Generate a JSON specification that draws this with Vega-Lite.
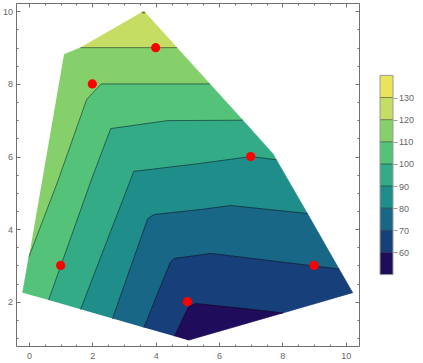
{
  "$schema": "https://vega.github.io/schema/vega-lite/v6.json",
  "padding": {"left": 2, "top": 2, "right": 0, "bottom": 0},
  "background": "white",
  "config": {
    "view": {"stroke": null},
    "axis": {"grid": false, "labelFont": "Liberation Sans", "labelFontSize": 9, "labelColor": "#666666", "tickColor": "#707070", "domainColor": "#707070", "domainWidth": 1, "tickWidth": 1}
  },
  "datasets": {
    "bands": [
      {"b":"b130","o":1,"x":3.56,"y":9.965},{"b":"b130","o":2,"x":3.63,"y":10.0},{"b":"b130","o":3,"x":3.666,"y":9.965},
      {"b":"b120","o":1,"x":1.63,"y":9.0},{"b":"b120","o":2,"x":3.63,"y":10.0},{"b":"b120","o":3,"x":4.67,"y":9.0},
      {"b":"b110","o":1,"x":0.0,"y":3.24},{"b":"b110","o":2,"x":0.906,"y":5.31},{"b":"b110","o":3,"x":1.82,"y":7.57},{"b":"b110","o":4,"x":2.28,"y":8.0},{"b":"b110","o":5,"x":5.71,"y":8.0},{"b":"b110","o":6,"x":4.67,"y":9.0},{"b":"b110","o":7,"x":1.63,"y":9.0},{"b":"b110","o":8,"x":1.105,"y":8.81},
      {"b":"b100","o":1,"x":0.62,"y":2.045},{"b":"b100","o":2,"x":1.95,"y":5.31},{"b":"b100","o":3,"x":2.58,"y":6.77},{"b":"b100","o":4,"x":4.38,"y":6.99},{"b":"b100","o":5,"x":6.75,"y":7.0},{"b":"b100","o":6,"x":5.71,"y":8.0},{"b":"b100","o":7,"x":2.28,"y":8.0},{"b":"b100","o":8,"x":1.82,"y":7.57},{"b":"b100","o":9,"x":0.906,"y":5.31},{"b":"b100","o":10,"x":0.0,"y":3.24},{"b":"b100","o":11,"x":-0.2,"y":2.25},
      {"b":"b90","o":1,"x":1.63,"y":1.79},{"b":"b90","o":2,"x":3.31,"y":5.59},{"b":"b90","o":3,"x":5.42,"y":5.81},{"b":"b90","o":4,"x":7.0,"y":6.0},{"b":"b90","o":5,"x":7.81,"y":5.91},{"b":"b90","o":6,"x":7.7,"y":6.08},{"b":"b90","o":7,"x":6.75,"y":7.0},{"b":"b90","o":8,"x":4.38,"y":6.99},{"b":"b90","o":9,"x":2.58,"y":6.77},{"b":"b90","o":10,"x":1.95,"y":5.31},{"b":"b90","o":11,"x":0.62,"y":2.045},
      {"b":"b80","o":1,"x":2.64,"y":1.54},{"b":"b80","o":2,"x":3.75,"y":4.29},{"b":"b80","o":3,"x":3.94,"y":4.4},{"b":"b80","o":4,"x":5.42,"y":4.54},{"b":"b80","o":5,"x":6.37,"y":4.65},{"b":"b80","o":6,"x":8.79,"y":4.43},{"b":"b80","o":7,"x":7.81,"y":5.91},{"b":"b80","o":8,"x":7.0,"y":6.0},{"b":"b80","o":9,"x":5.42,"y":5.81},{"b":"b80","o":10,"x":3.31,"y":5.59},{"b":"b80","o":11,"x":1.63,"y":1.79},
      {"b":"b70","o":1,"x":3.63,"y":1.29},{"b":"b70","o":2,"x":4.47,"y":3.1},{"b":"b70","o":3,"x":4.58,"y":3.19},{"b":"b70","o":4,"x":5.42,"y":3.29},{"b":"b70","o":5,"x":5.74,"y":3.33},{"b":"b70","o":6,"x":9.79,"y":2.9},{"b":"b70","o":7,"x":8.79,"y":4.43},{"b":"b70","o":8,"x":6.37,"y":4.65},{"b":"b70","o":9,"x":5.42,"y":4.54},{"b":"b70","o":10,"x":3.94,"y":4.4},{"b":"b70","o":11,"x":3.75,"y":4.29},{"b":"b70","o":12,"x":2.64,"y":1.54},
      {"b":"b60","o":1,"x":4.6,"y":1.05},{"b":"b60","o":2,"x":4.89,"y":1.59},{"b":"b60","o":3,"x":5.04,"y":1.86},{"b":"b60","o":4,"x":5.26,"y":1.95},{"b":"b60","o":5,"x":6.68,"y":1.82},{"b":"b60","o":6,"x":8.01,"y":1.69},{"b":"b60","o":7,"x":10.22,"y":2.25},{"b":"b60","o":8,"x":9.79,"y":2.9},{"b":"b60","o":9,"x":5.74,"y":3.33},{"b":"b60","o":10,"x":5.42,"y":3.29},{"b":"b60","o":11,"x":4.58,"y":3.19},{"b":"b60","o":12,"x":4.47,"y":3.1},{"b":"b60","o":13,"x":3.63,"y":1.29},
      {"b":"b50","o":1,"x":4.6,"y":1.05},{"b":"b50","o":2,"x":4.89,"y":1.59},{"b":"b50","o":3,"x":5.04,"y":1.86},{"b":"b50","o":4,"x":5.26,"y":1.95},{"b":"b50","o":5,"x":6.68,"y":1.82},{"b":"b50","o":6,"x":8.01,"y":1.69},{"b":"b50","o":7,"x":5.03,"y":0.94}
    ],
    "contours": [
      {"lev":130,"o":1,"x":3.56,"y":9.965},{"lev":130,"o":2,"x":3.666,"y":9.965},
      {"lev":120,"o":1,"x":1.63,"y":9.0},{"lev":120,"o":2,"x":4.67,"y":9.0},
      {"lev":110,"o":1,"x":0.0,"y":3.24},{"lev":110,"o":2,"x":0.906,"y":5.31},{"lev":110,"o":3,"x":1.82,"y":7.57},{"lev":110,"o":4,"x":2.28,"y":8.0},{"lev":110,"o":5,"x":5.71,"y":8.0},
      {"lev":100,"o":1,"x":0.62,"y":2.045},{"lev":100,"o":2,"x":1.95,"y":5.31},{"lev":100,"o":3,"x":2.58,"y":6.77},{"lev":100,"o":4,"x":4.38,"y":6.99},{"lev":100,"o":5,"x":6.75,"y":7.0},
      {"lev":90,"o":1,"x":1.63,"y":1.79},{"lev":90,"o":2,"x":3.31,"y":5.59},{"lev":90,"o":3,"x":5.42,"y":5.81},{"lev":90,"o":4,"x":7.0,"y":6.0},{"lev":90,"o":5,"x":7.81,"y":5.91},
      {"lev":80,"o":1,"x":2.64,"y":1.54},{"lev":80,"o":2,"x":3.75,"y":4.29},{"lev":80,"o":3,"x":3.94,"y":4.4},{"lev":80,"o":4,"x":5.42,"y":4.54},{"lev":80,"o":5,"x":6.37,"y":4.65},{"lev":80,"o":6,"x":8.79,"y":4.43},
      {"lev":70,"o":1,"x":3.63,"y":1.29},{"lev":70,"o":2,"x":4.47,"y":3.1},{"lev":70,"o":3,"x":4.58,"y":3.19},{"lev":70,"o":4,"x":5.42,"y":3.29},{"lev":70,"o":5,"x":5.74,"y":3.33},{"lev":70,"o":6,"x":9.79,"y":2.9},
      {"lev":60,"o":1,"x":4.6,"y":1.05},{"lev":60,"o":2,"x":4.89,"y":1.59},{"lev":60,"o":3,"x":5.04,"y":1.86},{"lev":60,"o":4,"x":5.26,"y":1.95},{"lev":60,"o":5,"x":6.68,"y":1.82},{"lev":60,"o":6,"x":8.01,"y":1.69}
    ],
    "pts": [
      {"x":1,"y":3},{"x":2,"y":8},{"x":4,"y":9},{"x":7,"y":6},{"x":9,"y":3},{"x":5,"y":2}
    ],
    "legend": [
      {"b":"b50","lo":50,"hi":60},{"b":"b60","lo":60,"hi":70},{"b":"b70","lo":70,"hi":80},{"b":"b80","lo":80,"hi":90},{"b":"b90","lo":90,"hi":100},{"b":"b100","lo":100,"hi":110},{"b":"b110","lo":110,"hi":120},{"b":"b120","lo":120,"hi":130},{"b":"b130","lo":130,"hi":140}
    ],
    "legdiv": [{"v":60},{"v":70},{"v":80},{"v":90},{"v":100},{"v":110},{"v":120},{"v":130}],
    "legbox": [{"lo":50,"hi":140}]
  },
  "resolve": {"scale": {"x": "independent", "y": "independent", "fill": "independent", "stroke": "independent"}},
  "spacing": 19,
  "hconcat": [
    {
      "width": 343,
      "height": 343,
      "resolve": {"axis": {"x": "independent", "y": "independent"}},
      "layer": [
        {
          "data": {"name": "bands"},
          "mark": {"type": "line", "strokeWidth": 0.7, "interpolate": "linear"},
          "encoding": {
            "x": {"field": "x", "type": "quantitative", "title": null, "scale": {"domain": [-0.41, 10.42], "nice": false, "zero": false},
                  "axis": {"orient": "bottom", "values": [0, 2, 4, 6, 8, 10], "tickSize": -4, "labelPadding": 9, "domain": true, "labelFlush": false}},
            "y": {"field": "y", "type": "quantitative", "title": null, "scale": {"domain": [0.78, 10.23], "nice": false, "zero": false},
                  "axis": {"orient": "left", "values": [2, 4, 6, 8, 10], "tickSize": -4, "labelPadding": 7.6, "domain": true, "labelFlush": false}},
            "order": {"field": "o"},
            "fill": {"field": "b", "type": "nominal", "legend": null, "scale": {"domain": ["b50","b60","b70","b80","b90","b100","b110","b120","b130"], "range": ["#1f0c5b","#173f7a","#196786","#1f8e8a","#33ab86","#55c27a","#86d06b","#c5dd62","#e8e55b"]}},
            "stroke": {"field": "b", "type": "nominal", "legend": null, "scale": {"domain": ["b50","b60","b70","b80","b90","b100","b110","b120","b130"], "range": ["#1f0c5b","#173f7a","#196786","#1f8e8a","#33ab86","#55c27a","#86d06b","#c5dd62","#e8e55b"]}}
          }
        },
        {
          "data": {"name": "contours"},
          "transform": [{"filter": "datum.lev < 130"}],
          "mark": {"type": "line", "stroke": "#000000", "strokeOpacity": 0.45, "strokeWidth": 1},
          "encoding": {
            "x": {"field": "x", "type": "quantitative", "title": null, "scale": {"domain": [-0.41, 10.42], "nice": false, "zero": false},
                  "axis": {"orient": "top", "values": [0, 2, 4, 6, 8, 10], "tickSize": -4, "labels": false, "domain": true}},
            "y": {"field": "y", "type": "quantitative", "title": null, "scale": {"domain": [0.78, 10.23], "nice": false, "zero": false},
                  "axis": {"orient": "right", "values": [2, 4, 6, 8, 10], "tickSize": -4, "labels": false, "domain": true}},
            "detail": {"field": "lev", "type": "nominal"},
            "order": {"field": "o"}
          }
        },
        {
          "data": {"name": "contours"},
          "transform": [{"filter": "datum.lev == 130"}],
          "mark": {"type": "line", "stroke": "#000000", "strokeOpacity": 0.45, "strokeWidth": 1.5},
          "encoding": {
            "x": {"field": "x", "type": "quantitative", "title": null, "scale": {"domain": [-0.41, 10.42], "nice": false, "zero": false},
                  "axis": {"orient": "top", "values": [0.5,1,1.5,2.5,3,3.5,4.5,5,5.5,6.5,7,7.5,8.5,9,9.5], "tickSize": -2, "labels": false, "domain": false}},
            "y": {"field": "y", "type": "quantitative", "title": null, "scale": {"domain": [0.78, 10.23], "nice": false, "zero": false},
                  "axis": {"orient": "right", "values": [1,1.5,2.5,3,3.5,4.5,5,5.5,6.5,7,7.5,8.5,9,9.5], "tickSize": -2, "labels": false, "domain": false}},
            "order": {"field": "o"}
          }
        },
        {
          "data": {"name": "pts"},
          "mark": {"type": "point", "filled": true, "color": "#ff0000", "opacity": 1, "size": 85},
          "encoding": {
            "x": {"field": "x", "type": "quantitative", "title": null, "scale": {"domain": [-0.41, 10.42], "nice": false, "zero": false},
                  "axis": {"orient": "bottom", "values": [0.5,1,1.5,2.5,3,3.5,4.5,5,5.5,6.5,7,7.5,8.5,9,9.5], "tickSize": -2, "labels": false, "domain": false}},
            "y": {"field": "y", "type": "quantitative", "title": null, "scale": {"domain": [0.78, 10.23], "nice": false, "zero": false},
                  "axis": {"orient": "left", "values": [1,1.5,2.5,3,3.5,4.5,5,5.5,6.5,7,7.5,8.5,9,9.5], "tickSize": -2, "labels": false, "domain": false}}
          }
        }
      ]
    },
    {
      "width": 13,
      "height": 343,
      "layer": [
        {
          "data": {"name": "legend"},
          "mark": {"type": "rect"},
          "encoding": {
            "x": {"datum": 0, "type": "quantitative", "scale": {"domain": [0, 1], "nice": false, "zero": false}, "axis": null},
            "x2": {"datum": 1},
            "y": {"field": "lo", "type": "quantitative", "title": null, "scale": {"domain": [17.75, 172.7], "nice": false, "zero": false},
                  "axis": {"orient": "right", "values": [60, 70, 80, 90, 100, 110, 120, 130], "tickSize": 4, "labelPadding": 1.5, "domain": false, "tickColor": "#999999", "labelFlush": false}},
            "y2": {"field": "hi"},
            "fill": {"field": "b", "type": "nominal", "legend": null, "scale": {"domain": ["b50","b60","b70","b80","b90","b100","b110","b120","b130"], "range": ["#1f0c5b","#173f7a","#196786","#1f8e8a","#33ab86","#55c27a","#86d06b","#c5dd62","#e8e55b"]}}
          }
        },
        {
          "data": {"name": "legdiv"},
          "mark": {"type": "rule", "stroke": "#000000", "strokeOpacity": 0.45, "strokeWidth": 1},
          "encoding": {"y": {"field": "v", "type": "quantitative"}}
        },
        {
          "data": {"name": "legbox"},
          "mark": {"type": "rect", "fill": null, "stroke": "#9a9a9a", "strokeWidth": 1},
          "encoding": {
            "x": {"datum": 0, "type": "quantitative"},
            "x2": {"datum": 1},
            "y": {"field": "lo", "type": "quantitative"},
            "y2": {"field": "hi"}
          }
        }
      ]
    }
  ]
}
